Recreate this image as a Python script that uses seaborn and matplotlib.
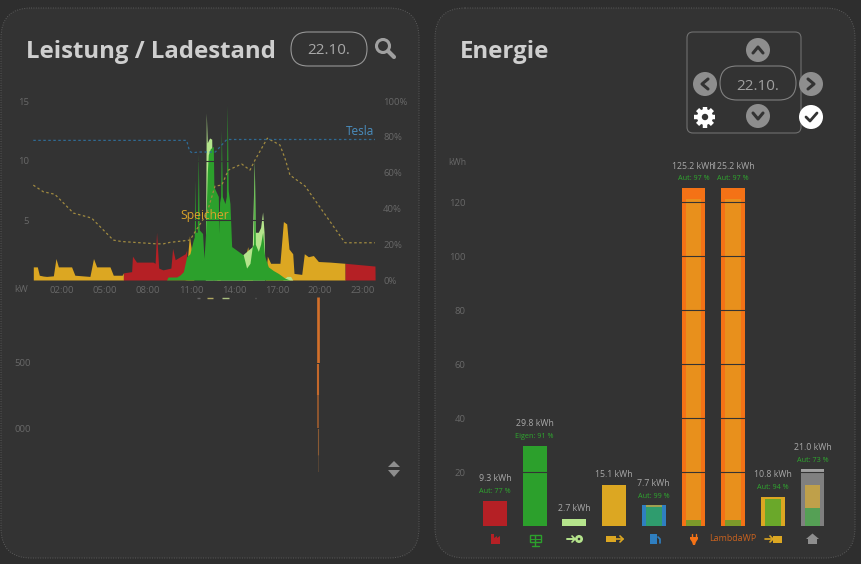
import matplotlib
matplotlib.use("Agg")
import matplotlib.patches as mpatches
import matplotlib.pyplot as plt
import numpy as np
import seaborn as sns

# --- values ---
battery_hours = [0, 0, .28, .42, .7, .93, 1.4, 1.58, 1.75, 2.67, 2.9, 3.95, 4.2, 4.42, 5.35, 5.58, 6.2, 6.28, 6.29,
                 10.59, 10.7, 10.89, 11.07, 11.2, 12.8, 12.92, 13.05, 14.6, 14.77, 14.96, 15.12, 15.3, 16.2, 16.33,
                 16.56, 17.21, 17.45, 17.68, 17.84, 18.1, 18.19, 18.73, 18.91, 19.19, 19.54, 19.89, 20.7, 21.75, 21.76]
battery_kw = [0, 1.1, 1.1, .4, .33, .3, .35, 1.8, 1.1, 1.1, .4, .3, 1.8, 1.1, 1.1, .4, .4, .6, 0,
              0, 1.0, 3.7, 2.2, 0, 0, 3.8, 0, 0, 1.6, 2.8, 1.4, 0, 0, 2.0,
              1.4, 1.4, 4.9, 4.7, 2.6, 2.2, .55, .47, 2.2, 1.95, 2.05, 1.55, 1.5, 1.4, 0]
grid_hours = [6.28, 6.3, 6.86, 6.92, 7.2, 8.35, 8.5, 8.6, 8.75, 9.05, 9.6, 9.72, 9.9, 10.6, 10.7, 10.71,
              21.75, 21.76, 23.84, 23.85]
grid_kw = [0, .6, .7, 2.0, 1.5, 1.5, 1.4, 4.0, 1.0, .85, 1.0, 2.65, 1.7, 2.2, 2.5, 0,
           0, 1.4, 1.17, 0]
pv_hours = [9.3, 9.4, 10.0, 10.24, 10.47, 10.7, 10.93, 11.16, 11.23, 11.28, 11.33, 11.44, 11.51, 11.58, 11.81, 11.91,
            12.02, 12.07, 12.14, 12.21, 12.35, 12.56, 12.6, 12.91, 12.95, 13.0, 13.07, 13.12, 13.19, 13.37, 13.47,
            13.53, 13.6, 13.72, 13.84, 14.19, 14.65, 14.88, 15.12, 15.28, 15.37, 15.42, 15.49, 15.7, 15.86, 16.0,
            16.14, 16.4, 16.74, 17.1, 17.56, 17.9]
pv_kw = [0, .25, .25, .42, .7, 1.95, 2.2, 3.35, 3.6, 8.4, 4, 4, 10.6, 4.2, 3.9, 1.8,
         3.9, 6, 9, 10.5, 11, 11.2, 7.8, 7, 3.9, 6.5, 7, 12.6, 7, 6.4, 7,
         14.66, 7.5, 6.4, 2.8, 2.5, 2.1, 1, 1.4, 2.8, 3, 10, 3, 2.4, 3, 4,
         2, 1.1, .8, .55, .15, 0]
feed_hours = [12.0, 12.07, 12.14, 12.3, 12.45, 12.56, 15.28, 15.42, 15.49, 15.7, 15.86, 16.0, 16.1, 16.14, 16.15,
              17.4, 17.7, 17.95, 18.1]
feed_kw = [0, 14, 11.5, 11.9, 11.8, 0, 2.8, 10, 4, 4, 4.4, 5.7, 4, 2, 0,
           0, .3, .3, 0]

soc_hours = [0, .7, 1.5, 2.8, 4.07, 5.58, 6.16, 8.6, 9.07, 9.53, 10.93, 11.52, 12.1, 12.68, 13.15, 13.61, 14.54,
             15.12, 15.47, 16.33, 17.21, 17.56, 17.91, 18.96, 21.75, 23.84]
soc_pct = [53, 49.3, 47.9, 37.4, 34.6, 22.3, 21.5, 20.2, 20.2, 21, 22.3, 29.8, 37, 52.5, 53, 61.4, 64.8,
           61.4, 67, 79.2, 75.4, 68, 58.6, 52.5, 20.8, 20.8]
tesla_hours = [0, 10.7, 10.9, 11.1, 11.5, 12.7, 13.5, 23.84]
tesla_pct = [78, 78, 72, 71, 71.5, 71.5, 78.5, 78.5]

hour_ticks = [2, 5, 8, 11, 14, 17, 20, 23]
hour_labels = ["02:00", "05:00", "08:00", "11:00", "14:00", "17:00", "20:00", "23:00"]

spike_levels = [667, 800, 1000, 1250, 1500, 2000]
spike_widths = [.4, .8, 1.1, 1.5, 1.9]
spike_colors = ["#6e5038", "#8a5a34", "#a8602f", "#c4682b", "#d4702a"]
fragment_from = [11.42, 12.12, 13.16, 15.45]
fragment_to = [11.63, 12.54, 13.66, 15.55]
fragment_colors = ["#666666", "#b0a860", "#a9c080", "#666666"]

categories = ["Netz", "PV", "Einspeisung", "Speicher+", "Auto", "Verbrauch", "LambdaWP", "Speicher-", "Haus"]
totals = [9.3, 29.8, 2.7, 15.1, 7.7, 125.2, 125.2, 10.8, 21.0]
body_kwh = [9.3, 29.8, 2.7, 15.1, 7.7, 125.2, 125.2, 10.8, 19.8]
inner_kwh = [0, 0, 0, 0, 7.7, 121, 121, 10, 15.2]
green_kwh = [0, 0, 0, 0, 7.0, 2.2, 2.2, 10, 6.6]
shares = ["Aut: 77 %", "Eigen: 91 %", "", "", "Aut: 99 %", "Aut: 97 %", "Aut: 97 %", "Aut: 94 %", "Aut: 73 %"]
kwh_ticks = [20, 40, 60, 80, 100, 120]
bar_labels = ["", "", "", "", "", "", "LambdaWP", "", ""]

top_colors = ["#b52025", "#2ca02c", "#b5e48c", "#dca722", "#2f7fc1", "#f47216", "#f47216", "#dca722", "#a0a0a0"]
body_colors = ["#b52025", "#2ca02c", "#b5e48c", "#dca722", "#2f7fc1", "#f47216", "#f47216", "#dca722", "#808080"]
inner_colors = ["#333333", "#333333", "#333333", "#333333", "#a0a050", "#e8901c", "#e8901c", "#dca722", "#bfa04a"]
green_colors = ["#333333", "#333333", "#333333", "#333333", "#2f9c6e", "#7d9a2a", "#7d9a2a", "#6aa82a", "#55a055"]

PANEL = "#333333"
OUTER = "#2e2e2e"
TICK = "#686868"
W, H = 862, 564

sns.set_theme(style="dark")
plt.rcParams["font.family"] = ["Open Sans", "DejaVu Sans"]
plt.rcParams["patch.linewidth"] = 0
fig = plt.figure(figsize=(W / 100, H / 100), dpi=100, facecolor=OUTER)


def axes_px(x0, y0, x1, y1, **kwargs):
    """Axes from pixel corners of the image."""
    ax = fig.add_axes([x0 / W, 1 - y1 / H, (x1 - x0) / W, (y1 - y0) / H], **kwargs)
    ax.patch.set_alpha(0)
    for spine in ax.spines.values():
        spine.set_visible(False)
    return ax


def pixel_axes(zorder):
    ax = axes_px(0, 0, W, H, zorder=zorder)
    ax.set_xlim(0, W)
    ax.set_ylim(H, 0)
    ax.axis("off")
    return ax


# background and controls are drawn in image pixels
bg = pixel_axes(0)
fg = pixel_axes(3)


def rounded(x0, y0, x1, y1, radius, **kwargs):
    bg.add_patch(mpatches.FancyBboxPatch(
        (x0 + radius, y0 + radius), x1 - x0 - 2 * radius, y1 - y0 - 2 * radius,
        boxstyle=f"round,pad={radius},rounding_size={radius}", **kwargs
    ))


rounded(1, 8, 419, 558, 30, fc=PANEL, ec="#5c5c5c", lw=.7, ls=(0, (1, 1.5)))
rounded(435, 8, 855, 558, 30, fc=PANEL, ec="#5c5c5c", lw=.7, ls=(0, (1, 1.5)))
rounded(291, 32, 367, 66, 17, fc="none", ec="#969696", lw=.8)
rounded(687, 32, 801, 133, 6, fc="none", ec="#707070", lw=.8)
rounded(720, 66, 796, 100, 17, fc="none", ec="#808080", lw=.8)

bg.text(26, 52, "Leistung / Ladestand", color="#cfcfcf", fontsize=17.3, fontweight="bold", va="center")
bg.text(460, 52, "Energie", color="#cfcfcf", fontsize=17.3, fontweight="bold", va="center")
bg.text(329, 51, "22.10.", color="#a8a8a8", fontsize=11, ha="center", va="center")
bg.text(758, 86, "22.10.", color="#a0a0a0", fontsize=11, ha="center", va="center")

# magnifier
bg.add_patch(mpatches.Circle((383, 46), 6.5, fc="none", ec="#a0a0a0", lw=2.2))
bg.plot([388, 394], [51, 57], color="#a0a0a0", lw=3, solid_capstyle="round")


def chevron_button(x, y, xs, ys):
    bg.add_patch(mpatches.Circle((x, y), 12, fc="#8e8e8e", ec="none"))
    bg.plot([x + v for v in xs], [y + v for v in ys], color="#333333", lw=2.2, solid_capstyle="round")


chevron_button(758, 50, [-5, 0, 5], [3, -3, 3])
chevron_button(758, 116, [-5, 0, 5], [-3, 3, -3])
chevron_button(705, 84, [3, -3, 3], [-5, 0, 5])
chevron_button(811, 84, [-3, 3, -3], [-5, 0, 5])

# gear and check
for angle in np.arange(0, 180, 45):
    dx, dy = 10.5 * np.cos(np.radians(angle)), 10.5 * np.sin(np.radians(angle))
    bg.plot([705 - dx, 705 + dx], [117 - dy, 117 + dy], color="white", lw=3.2, solid_capstyle="butt")
bg.add_patch(mpatches.Circle((705, 117), 8, fc="white", ec="none", zorder=3))
bg.add_patch(mpatches.Circle((705, 117), 3.2, fc=PANEL, ec="none", zorder=4))
bg.add_patch(mpatches.Circle((811, 117), 12, fc="white", ec="none"))
bg.plot([806, 810, 817], [117, 121, 113], color="#333333", lw=2)

# sort arrows
bg.add_patch(mpatches.Polygon([(388, 467), (400, 467), (394, 461)], fc="#8e8e8e"))
bg.add_patch(mpatches.Polygon([(388, 470), (400, 470), (394, 477)], fc="#8e8e8e"))

# --- upper left: power and state of charge ---
ax = axes_px(33.3, 101, 375.4, 280, zorder=2)
ax.fill_between(battery_hours, battery_kw, color="#dca722", lw=0)
ax.fill_between(grid_hours, grid_kw, color="#b52025", lw=0)
ax.fill_between(feed_hours, feed_kw, color="#b5e48c", lw=0)
ax.fill_between(pv_hours, pv_kw, color="#2ca02c", lw=0)
ax.set_xlim(0, 23.87)
ax.set_ylim(0, 15)
ax.set_xticks(hour_ticks, labels=hour_labels)
ax.set_yticks([5, 10, 15], labels=["5", "10", "15"])
ax.set_axisbelow(False)
ax.grid(axis="y", color=PANEL, lw=.8)
ax.tick_params(length=0, labelsize=6.8, labelcolor=TICK, pad=4)
ax.tick_params(axis="y", pad=3)
ax.text(-.35, -.78, "kW", color=TICK, fontsize=6.8, ha="right", va="center")

soc_ax = ax.twinx()
soc_ax.patch.set_alpha(0)
for spine in soc_ax.spines.values():
    spine.set_visible(False)
sns.lineplot(x=soc_hours, y=soc_pct, ax=soc_ax, color="#a08a40", lw=.9, ls=(0, (2, 2)))
sns.lineplot(x=tesla_hours, y=tesla_pct, ax=soc_ax, color="#2f6a94", lw=.9, ls=(0, (2, 2)))
soc_ax.set_ylim(0, 100)
soc_ax.set_yticks([0, 20, 40, 60, 80, 100], labels=["0%", "20%", "40%", "60%", "80%", "100%"])
soc_ax.tick_params(length=0, labelsize=6.8, labelcolor=TICK, pad=5.5)
soc_ax.grid(False)
soc_ax.text(23.8, 83, "Tesla", color="#4a8ebf", fontsize=8.5, ha="right", va="center")
soc_ax.text(11.98, 36, "Speicher", color="#d9a32a", fontsize=8.7, ha="center", va="center")

# --- lower left: clipped second chart ---
low = axes_px(33.3, 297, 375.4, 472, zorder=2)
low.set_xlim(0, 23.87)
low.set_ylim(667, 2000)
low.set_xticks([])
low.set_yticks([1000, 1500], labels=["000", "500"])
low.tick_params(length=0, labelsize=6.8, labelcolor=TICK, pad=1.5)
for i in range(5):
    low.plot([19.87, 19.87], spike_levels[i:i + 2], color=spike_colors[i], lw=spike_widths[i], solid_capstyle="butt")
low.hlines([1992] * 4, fragment_from, fragment_to, colors=fragment_colors, lw=1)
low.set_axisbelow(False)
low.grid(axis="y", color=PANEL, lw=.7)

# --- right: energy bars ---
bar_ax = axes_px(475.15, 150, 832.35, 526, zorder=2)
sns.barplot(x=categories, y=totals, hue=categories, palette=top_colors, legend=False, width=.6, saturation=1, ax=bar_ax)
sns.barplot(x=categories, y=body_kwh, hue=categories, palette=body_colors, legend=False, width=.6, saturation=1, ax=bar_ax)
sns.barplot(x=categories, y=inner_kwh, hue=categories, palette=inner_colors, legend=False, width=.4, saturation=1, ax=bar_ax)
sns.barplot(x=categories, y=green_kwh, hue=categories, palette=green_colors, legend=False, width=.4, saturation=1, ax=bar_ax)
bar_ax.set_xlim(-.5, 8.5)
bar_ax.set_ylim(0, 139.3)
bar_ax.set_ylabel(None)
bar_ax.set_yticks(kwh_ticks, labels=[str(v) for v in kwh_ticks])
bar_ax.set_xticks(range(9), labels=bar_labels)
bar_ax.set_axisbelow(False)
bar_ax.grid(axis="y", color=PANEL, lw=.8)
bar_ax.tick_params(length=0, labelsize=6.8, labelcolor=TICK, pad=7)
bar_ax.tick_params(axis="x", labelsize=6.4, labelcolor="#c8621f", pad=5.5)
bar_ax.text(-.73, 134.7, "kWh", color=TICK, fontsize=6.3, ha="right", va="center")
for i, (total, share) in enumerate(zip(totals, shares)):
    offset = 15.8 if share else 7.6
    bar_ax.annotate(f"{total:.1f} kWh", (i, total), xytext=(0, offset), textcoords="offset points",
                    color="#a8a8a8", fontsize=6.3, ha="center", va="center", annotation_clip=False)
    if share:
        bar_ax.annotate(share, (i, total), xytext=(0, 6.6), textcoords="offset points",
                        color="#2fa82f", fontsize=5.2, ha="center", va="center", annotation_clip=False)

# icons under the bars
fg.add_patch(mpatches.Polygon([(491, 544), (491, 534), (494, 534), (494, 538), (497, 536), (497, 538), (500, 536), (500, 544)], fc="#b52025"))
fg.add_patch(mpatches.Rectangle((530, 535), 11, 7, fc="none", ec="#2ca02c", lw=1))
fg.plot([535.5, 535.5], [535, 546], color="#2ca02c", lw=1)
fg.plot([532, 539], [546, 546], color="#2ca02c", lw=1)
fg.plot([530, 541], [538.5, 538.5], color="#2ca02c", lw=.7)
fg.plot([567, 575], [539, 539], color="#b5e48c", lw=1.4)
fg.add_patch(mpatches.Circle((579, 539), 4, fc="#b5e48c", ec="none"))
fg.add_patch(mpatches.Circle((579, 539), 1.3, fc=PANEL, ec="none"))
fg.plot([572, 575, 572], [536, 539, 542], color="#b5e48c", lw=1.2)
fg.add_patch(mpatches.Rectangle((606, 536), 10, 6, fc="#dca722"))
fg.plot([616, 623], [539, 539], color="#dca722", lw=1.2)
fg.plot([620, 623, 620], [536, 539, 542], color="#dca722", lw=1.2)
fg.add_patch(mpatches.Rectangle((650, 534), 7, 10, fc="#2f7fc1"))
fg.plot([658, 660, 660], [537, 539, 543], color="#2f7fc1", lw=1.2)
fg.add_patch(mpatches.Polygon([(690, 537), (698, 537), (698, 539), (696, 542), (695, 545), (693, 545), (692, 542), (690, 539)], fc="#f47216"))
fg.plot([692, 692], [534, 537], color="#f47216", lw=1)
fg.plot([696, 696], [534, 537], color="#f47216", lw=1)
fg.plot([765, 773], [539, 539], color="#dca722", lw=1.2)
fg.plot([770, 773, 770], [536, 539, 542], color="#dca722", lw=1.2)
fg.add_patch(mpatches.Rectangle((773, 536), 9, 6.5, fc="#dca722"))
fg.add_patch(mpatches.Polygon([(806, 539), (812.5, 533.5), (819, 539), (817, 539), (817, 544), (808, 544), (808, 539)], fc="#8e8e8e"))

fig.savefig("out.png", dpi=100, facecolor=OUTER)
